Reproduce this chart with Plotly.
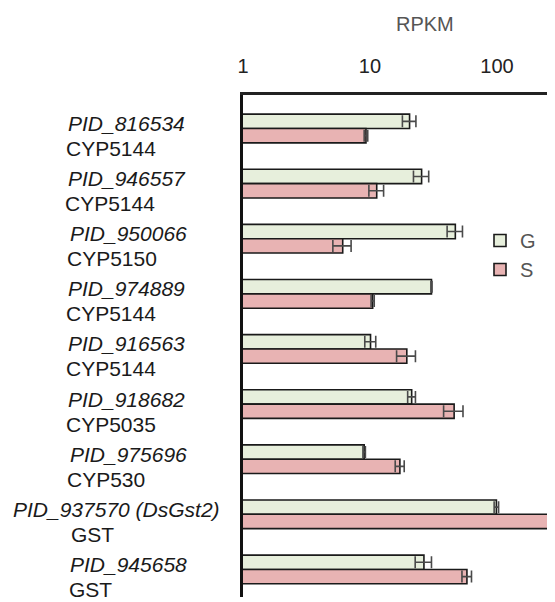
import plotly.graph_objects as go

# ---- data ----
categories = ["g1", "g2", "g3", "g4", "g5", "g6", "g7", "g8", "g9"]
pid_labels = ["PID_816534", "PID_946557", "PID_950066", "PID_974889", "PID_916563",
              "PID_918682", "PID_975696", "PID_937570 (DsGst2)", "PID_945658"]
gene_labels = ["CYP5144", "CYP5144", "CYP5150", "CYP5144", "CYP5144",
               "CYP5035", "CYP530", "GST", "GST"]
g_vals = [20.5, 25.5, 47, 30.5, 10.1, 21.3, 9.0, 99, 26.6]
g_err = [2.5, 3.5, 6.5, 0.3, 1.0, 1.5, 0.2, 4, 3.9]
s_vals = [9.3, 11.3, 6.1, 10.5, 19.5, 46, 17.2, 280, 58]
s_err = [0.3, 1.5, 1.0, 0.3, 3.3, 8, 1.4, 8, 5]
tick_vals = [1, 10, 100]
tick_text = ["1", "10", "100"]

# ---- layout geometry (page body has an 8px margin) ----
OFF = 8
W, H = 555 - OFF, 602 - OFF
ML, MR, MT, MB = 243 - OFF, 0, 95 - OFF, 5
PW = W - ML - MR
PH = H - MT - MB


def px_to_paper_x(px):
    return (px - OFF - ML) / PW


def px_to_paper_y(py):
    return 1 - (py - OFF - MT) / PH


FONT = "Liberation Sans, Arial, Helvetica, sans-serif"

fig = go.Figure()
fig.add_trace(go.Bar(
    name="G", y=categories, x=g_vals, orientation="h",
    marker=dict(color="#e7efdc", line=dict(color="#1a1a1a", width=1.6)),
    error_x=dict(type="data", array=g_err, visible=True, color="#4a4a4a", thickness=1.6, width=6),
))
fig.add_trace(go.Bar(
    name="S", y=categories, x=s_vals, orientation="h",
    marker=dict(color="#e8b3b3", line=dict(color="#1a1a1a", width=1.6)),
    error_x=dict(type="data", array=s_err, visible=True, color="#4a4a4a", thickness=1.6, width=6),
))

annotations = []
pid_x_px = [66, 66, 68, 66, 66, 66, 68, 11, 68]
gene_x_px = [64, 63, 65, 64, 64, 64, 65, 69, 67]
for i, c in enumerate(categories):
    annotations.append(dict(
        xref="paper", yref="y", x=px_to_paper_x(pid_x_px[i]), y=c, xanchor="left", yanchor="middle",
        text="<i>" + pid_labels[i] + "</i>", showarrow=False, yshift=5,
        font=dict(family=FONT, size=21, color="#1a1a1a")))
    annotations.append(dict(
        xref="paper", yref="y", x=px_to_paper_x(gene_x_px[i]), y=c, xanchor="left", yanchor="middle",
        text=gene_labels[i], showarrow=False, yshift=-20,
        font=dict(family=FONT, size=21, color="#1a1a1a")))
annotations.append(dict(
    xref="paper", yref="paper", x=px_to_paper_x(425), y=px_to_paper_y(24), xanchor="center", yanchor="middle",
    text="RPKM", showarrow=False, font=dict(family=FONT, size=20, color="#555555")))

fig.update_layout(
    width=W, height=H,
    margin=dict(l=ML, r=MR, t=MT, b=MB, pad=0),
    paper_bgcolor="white", plot_bgcolor="white",
    barmode="group", bargap=0.48, bargroupgap=0,
    font=dict(family=FONT, size=20, color="#222222"),
    xaxis=dict(type="log", side="top", range=[0, 2.457], showgrid=False, zeroline=False,
               showline=True, linecolor="#222222", linewidth=2.5,
               tickvals=tick_vals, ticktext=tick_text, ticks="", ticklabelstandoff=11,
               tickfont=dict(family=FONT, size=20, color="#222222")),
    yaxis=dict(type="category", autorange="reversed", showgrid=False, zeroline=False,
               showline=True, linecolor="#111111", linewidth=2.5, showticklabels=False, ticks=""),
    legend=dict(x=px_to_paper_x(480), y=px_to_paper_y(221), xanchor="left", yanchor="top",
                bgcolor="rgba(0,0,0,0)", font=dict(family=FONT, size=20, color="#555555")),
    annotations=annotations,
)

fig.write_html("out.html", config={"displayModeBar": False})
